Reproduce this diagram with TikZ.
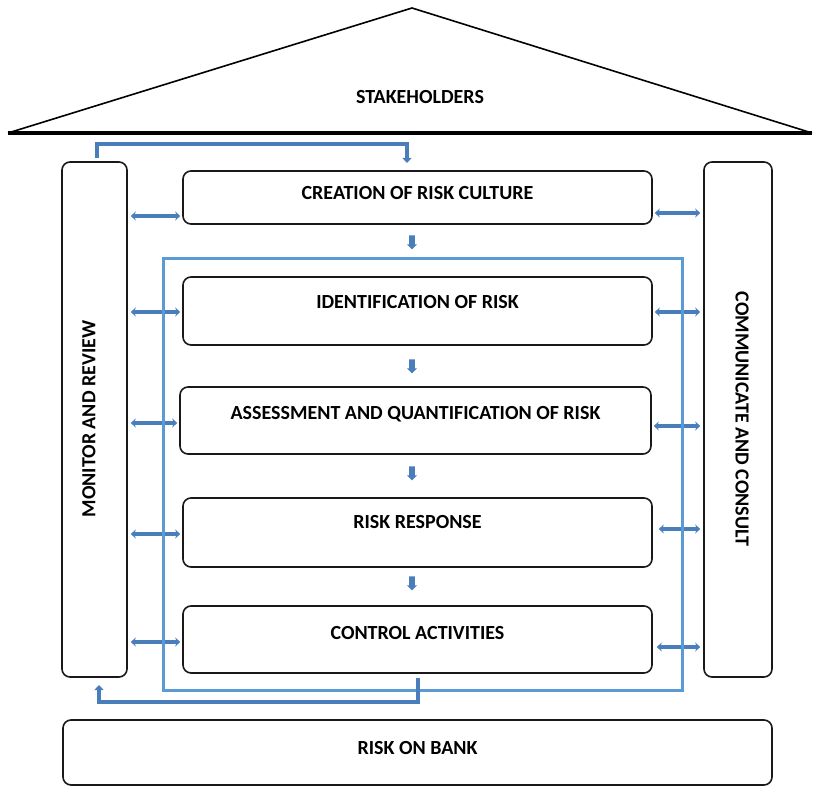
\documentclass[tikz,border=0pt]{standalone}
\usepackage{fontspec}
\setmainfont{Carlito}
\usetikzlibrary{arrows.meta,shapes.arrows}
\definecolor{arrblue}{HTML}{4A7EBB}
\definecolor{frblue}{HTML}{5B9BD5}
\tikzset{
  box/.style={draw=black!90, line width=1.6pt, rounded corners=8pt, inner sep=0pt, fill=white},
  lbl/.style={font=\fontsize{20}{24}\selectfont\bfseries, inner sep=0pt},
  dbl/.style={draw=arrblue, line width=4pt, {Stealth[length=5pt,width=9pt]}-{Stealth[length=5pt,width=9pt]}},
  conn/.style={draw=arrblue, line width=4pt, -{Triangle[length=5pt,width=9pt]}},
  frame/.style={draw=frblue, line width=3pt},
  downarr/.style={single arrow, fill=arrblue, draw=none, minimum width=10pt, minimum height=14pt, inner sep=2.5pt, single arrow head extend=2pt, shape border rotate=270}
}
\begin{document}
\begin{tikzpicture}[x=1pt,y=-1pt]
\useasboundingbox (0,0) rectangle (814,786);
% roof
\draw[line width=1.6pt] (8,133) -- (412,8) -- (812,133);
\draw[line width=3.2pt] (8,133) -- (812,133);
\node[lbl] (sh) at (420,97) {STAKEHOLDERS};
% side boxes
\node[box, minimum width=65pt, minimum height=515pt] (mr) at (94.5,419.5) {};
\node[lbl, rotate=90] (mrt) at (89,419) {MONITOR AND REVIEW};
\node[box, minimum width=68pt, minimum height=515pt] (cc) at (738,419.5) {};
\node[lbl, rotate=-90] (cct) at (742,419) {COMMUNICATE AND CONSULT};
% central boxes
\node[box, minimum width=469pt, minimum height=53pt] (cr) at (417.5,197.5) {};
\node[lbl] (crt) at (417.5,193) {CREATION OF RISK CULTURE};
\node[box, minimum width=469pt, minimum height=68pt] (id) at (417.5,311) {};
\node[lbl] (idt) at (417.5,302) {IDENTIFICATION OF RISK};
\node[box, minimum width=471pt, minimum height=67pt] (as) at (415.5,420.5) {};
\node[lbl] (ast) at (415.5,414) {ASSESSMENT AND QUANTIFICATION OF RISK};
\node[box, minimum width=469pt, minimum height=69pt] (rr) at (417.5,532.5) {};
\node[lbl] (rrt) at (417.5,522) {RISK RESPONSE};
\node[box, minimum width=469pt, minimum height=67pt] (ca) at (417.5,639.5) {};
\node[lbl] (cat) at (417.5,633) {CONTROL ACTIVITIES};
\node[box, minimum width=709pt, minimum height=65pt] (bank) at (417.5,752.5) {};
\node[lbl] (bankt) at (417.5,748) {RISK ON BANK};
% down arrows
\node[downarr] (d1) at (412,241) {};
\node[downarr] (d2) at (412,365) {};
\node[downarr] (d3) at (412,472) {};
\node[downarr] (d4) at (412,582) {};
% double arrows left
\draw[dbl] ([xshift=3pt]mr.east |- 0,216) -- ([xshift=-2pt]cr.west |- 0,216);
\draw[dbl] ([xshift=3pt]mr.east |- 0,312) -- ([xshift=-2pt]id.west |- 0,312);
\draw[dbl] ([xshift=3pt]mr.east |- 0,423) -- ([xshift=-2pt]as.west |- 0,423);
\draw[dbl] ([xshift=3pt]mr.east |- 0,534) -- ([xshift=-2pt]rr.west |- 0,534);
\draw[dbl] ([xshift=3pt]mr.east |- 0,642) -- ([xshift=-2pt]ca.west |- 0,642);
% double arrows right
\draw[dbl] ([xshift=2pt]cr.east |- 0,213) -- ([xshift=-3pt]cc.west |- 0,213);
\draw[dbl] ([xshift=2pt]id.east |- 0,312) -- ([xshift=-3pt]cc.west |- 0,312);
\draw[dbl] ([xshift=2pt]as.east |- 0,426) -- ([xshift=-3pt]cc.west |- 0,426);
\draw[dbl] ([xshift=6pt]rr.east |- 0,529) -- ([xshift=-3pt]cc.west |- 0,529);
\draw[dbl] ([xshift=4pt]ca.east |- 0,647) -- ([xshift=-3pt]cc.west |- 0,647);
% blue frame
\draw[frame] (163,259) rectangle (682,690);
% top connector
\coordinate (t1) at (97,144);
\coordinate (t2) at (407,163);
\draw[conn] ([yshift=3pt]mr.north -| t1) -- (t1) -| (t2);
% bottom connector
\coordinate (b0) at (418,678);
\coordinate (b1) at (99,685);
\draw[conn] (b0) -- (b0 |- 0,702) -| (b1);
\end{tikzpicture}
\end{document}
